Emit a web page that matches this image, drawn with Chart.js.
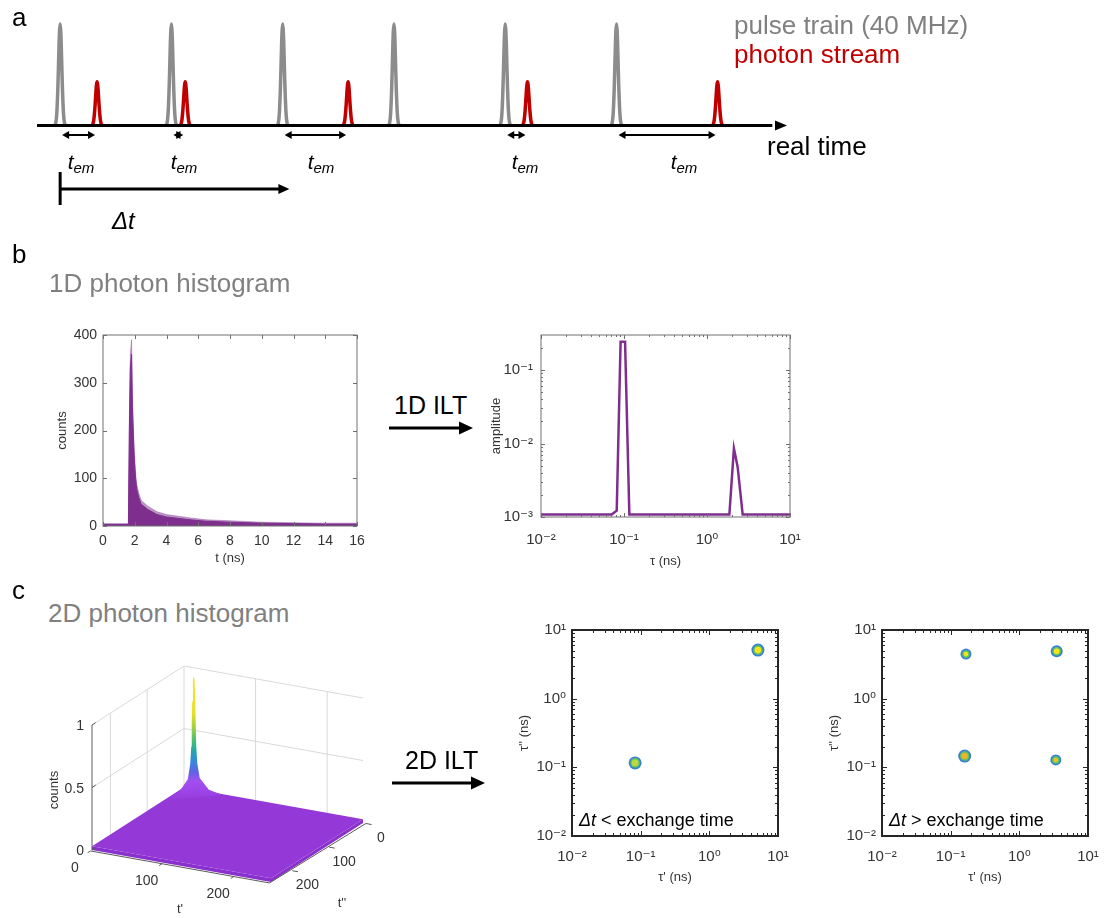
<!DOCTYPE html>
<html>
<head>
<meta charset="utf-8">
<title>photon histograms and ILT</title>
<script src="https://cdn.jsdelivr.net/npm/chart.js@4.4.1/dist/chart.umd.min.js"></script>
<style>
  body { margin: 0; background: #fff; }
  #page { position: relative; width: 1104px; height: 918px; overflow: hidden;
          font-family: "Liberation Sans", Arial, "DejaVu Sans", sans-serif; color: #000; }
  canvas { position: absolute; }
  .t { position: absolute; white-space: nowrap; line-height: 1; }
  svg { position: absolute; left: 0; top: 0; }
</style>
</head>
<body>
<div id="page"></div>
<script>
// ---- panel a: excitation pulses (40 MHz -> 25 ns apart) and photon arrivals, ns
const pulseTimes = [0, 25, 50, 75, 100, 125];
const photonTimes = [8.3, 28.1, 64.7, 105.0, 147.7];
const emissionStart = [0, 25, 50, 100, 125];
const pulseShapeT = [-1.3, -1.0, -0.75, -0.5, -0.3, -0.15, 0, 0.15, 0.3, 0.5, 0.75, 1.0, 1.3];
const pulseShapeH = [0, 0.02, 0.12, 0.39, 0.71, 0.92, 1, 0.92, 0.71, 0.39, 0.12, 0.02, 0];
const pulseHeight = 1;
const photonHeight = 0.43;
const deltaT = 51.5;
const emLabelX = [81, 184, 321, 525, 684];

// ---- panel b left: 1D photon histogram
const histTime   = [0, 1.6, 1.66, 1.72, 1.8, 1.85, 1.9, 1.97, 2.05, 2.12, 2.25, 2.4, 2.8, 3.4, 4.0, 5.5, 6.5, 8, 10, 12, 14, 16];
const histCounts = [3, 3, 200, 330, 360, 250, 200, 140, 100, 78, 60, 46, 35, 24, 19, 13, 10, 8, 6, 5, 4, 4];
const histUpper  = [5, 5, 230, 360, 390, 280, 225, 158, 113, 88, 69, 54, 42, 30, 24, 17, 13, 11, 8, 7, 6, 6];
const histXTicks = [0, 2, 4, 6, 8, 10, 12, 14, 16];
const histYTicks = [0, 100, 200, 300, 400];

// ---- panel b right: 1D ILT
const iltTau = [0.01, 0.071, 0.0817, 0.091, 0.103, 0.116, 1.86, 2.11, 2.34, 2.69, 10];
const iltAmp = [0.00108, 0.00108, 0.00122, 0.243, 0.243, 0.00108, 0.00108, 0.0086, 0.0048, 0.00108, 0.00108];
const tauTicks = [0.01, 0.1, 1, 10];
const tauLabels = ['10⁻²', '10⁻¹', '10⁰', '10¹'];
const ampTicks = [0.001, 0.01, 0.1];
const ampLabels = ['10⁻³', '10⁻²', '10⁻¹'];

// ---- panel c left: 2D photon histogram (3D view)
const tPrimeMax = 250, tDoubleMax = 250;
const tBinTicks = [0, 100, 200];
const zTicks = [0, 0.5, 1];
const zLabels = ['0', '0.5', '1'];
const surfaceLevel = 0.03;
const peakBin = 28;
// offsets across the peak (t' - t'' direction, bins) and counts there
const peakOffsets = [-52, -28, -11, -6.5, -4.6, -3.7, -2.8, -1.5, 0, 1.5, 2.8, 3.7, 4.6, 6.5, 11, 28, 52];
const peakCounts  = [0.03, 0.08, 0.18, 0.3, 0.44, 0.62, 0.8, 0.97, 1.0, 0.97, 0.8, 0.62, 0.44, 0.3, 0.18, 0.08, 0.03];

// ---- panel c: 2D ILT maps
const mapA_x = [0.083, 5.1];
const mapA_y = [0.116, 5.1];
const mapA_r = [6.5, 6.5];
const mapA_core = ['#bcd83e', '#f6e41e'];
const mapB_x = [0.167, 3.5, 0.16, 3.4];
const mapB_y = [4.46, 4.9, 0.146, 0.128];
const mapB_r = [5.5, 6, 6.5, 5.5];
const mapB_core = ['#f3e21f', '#f7e51b', '#eab52a', '#e2c435'];

Chart.defaults.font.family = '"Liberation Sans", Arial, "DejaVu Sans", sans-serif';
Chart.defaults.color = '#333';

const page = document.getElementById('page');
const xy = (xs, ys) => xs.map((x, i) => ({ x, y: ys[i] }));

function addCanvas(left, top, w, h) {
  const c = document.createElement('canvas');
  c.width = w; c.height = h;
  Object.assign(c.style, { left: left + 'px', top: top + 'px', width: w + 'px', height: h + 'px' });
  page.appendChild(c);
  return c;
}

// text placed by baseline (line-height 1)
function label(html, x, baseline, size, style) {
  const el = document.createElement('div');
  el.className = 't';
  el.innerHTML = html;
  el.style.left = x + 'px';
  el.style.top = (baseline - 0.8465 * size) + 'px';
  el.style.fontSize = size + 'px';
  if (style) Object.assign(el.style, style);
  page.appendChild(el);
  return el;
}
function vlabel(text, cx, cy, size) {
  const el = document.createElement('div');
  el.className = 't';
  el.textContent = text;
  Object.assign(el.style, { left: cx + 'px', top: cy + 'px', fontSize: size + 'px', color: '#333',
    transform: 'translate(-50%,-50%) rotate(-90deg)' });
  page.appendChild(el);
}

const base = {
  responsive: false, animation: false, devicePixelRatio: 1, events: [],
  plugins: { legend: { display: false }, tooltip: { enabled: false } }
};

// axis with fixed ticks and a fixed box size, so the plot area lands where we want it
function fixedAxis(o) {
  return {
    type: o.type, min: o.min, max: o.max,
    afterBuildTicks: s => { s.ticks = o.ticks.map(v => ({ value: v })); },
    afterFit: s => {
      if (o.width != null) s.width = o.width;
      if (o.height != null) s.height = o.height;
      s.paddingLeft = s.paddingRight = s.paddingTop = s.paddingBottom = 0;
    },
    grid: { display: false, drawTicks: false },
    border: { display: false },
    ticks: { autoSkip: false, maxRotation: 0, padding: o.pad, color: '#333', font: { size: o.size || 14 },
      callback: (v, i) => o.labels[i] },
    title: { display: true, text: o.title, color: '#333', font: { size: 13 }, padding: 4 }
  };
}

// MATLAB style box with inward ticks on all four sides
function matlabBox(opt) {
  return {
    id: 'matlabBox',
    afterDraw(chart) {
      const { ctx, chartArea: a, scales } = chart;
      ctx.save();
      ctx.strokeStyle = opt.color;
      ctx.lineWidth = 1;
      const mark = (axis, v, len) => {
        const p = Math.round(scales[axis].getPixelForValue(v)) + 0.5;
        ctx.beginPath();
        if (axis === 'x') {
          ctx.moveTo(p, a.bottom); ctx.lineTo(p, a.bottom - len);
          ctx.moveTo(p, a.top); ctx.lineTo(p, a.top + len);
        } else {
          ctx.moveTo(a.left, p); ctx.lineTo(a.left + len, p);
          ctx.moveTo(a.right, p); ctx.lineTo(a.right - len, p);
        }
        ctx.stroke();
      };
      ['x', 'y'].forEach(axis => {
        const s = scales[axis];
        s.ticks.forEach(t => mark(axis, t.value, opt.major));
        if (s.type === 'logarithmic' && opt.minor) {
          for (let e = Math.floor(Math.log10(s.min)); e < Math.log10(s.max); e++) {
            for (let k = 2; k <= 9; k++) {
              const v = k * Math.pow(10, e);
              if (v > s.min && v < s.max) mark(axis, v, opt.minor);
            }
          }
        }
      });
      ctx.lineWidth = opt.width;
      ctx.strokeRect(a.left, a.top, a.right - a.left, a.bottom - a.top);
      ctx.restore();
    }
  };
}

// ================= panel a =================
function arrowHead(ctx, x, y, dir, len, half) {
  ctx.beginPath();
  ctx.moveTo(x, y);
  ctx.lineTo(x - dir * len, y - half);
  ctx.lineTo(x - dir * len, y + half);
  ctx.closePath();
  ctx.fill();
}
function hArrow(ctx, x1, x2, y, lw, len, half, both) {
  ctx.lineWidth = lw;
  ctx.beginPath();
  ctx.moveTo(both ? x1 + len - 1 : x1, y);
  ctx.lineTo(x2 - len + 1, y);
  ctx.stroke();
  arrowHead(ctx, x2, y, 1, len, half);
  if (both) arrowHead(ctx, x1, y, -1, len, half);
}

const pulseArrows = {
  id: 'pulseArrows',
  afterDatasetsDraw(chart) {
    const { ctx } = chart;
    const xs = chart.scales.x, ys = chart.scales.y;
    const y0 = ys.getPixelForValue(0);
    const px = t => xs.getPixelForValue(t);
    ctx.save();
    ctx.fillStyle = ctx.strokeStyle = '#000';
    arrowHead(ctx, px(xs.max), y0, 1, 12, 5);
    emissionStart.forEach((t0, i) => hArrow(ctx, px(t0) + 2, px(photonTimes[i]) - 2, y0 + 9.5, 2, 7, 4, true));
    ctx.lineWidth = 3;
    ctx.beginPath();
    ctx.moveTo(px(0), y0 + 46.5);
    ctx.lineTo(px(0), y0 + 79.5);
    ctx.stroke();
    hArrow(ctx, px(0), px(deltaT), y0 + 63.5, 3, 11, 5, false);
    ctx.restore();
  }
};

const pulseSets = [];
pulseSets.push({ data: [{ x: -5.2, y: 0 }, { x: 160, y: 0 }], borderColor: '#000', borderWidth: 3 });
pulseTimes.forEach(t => pulseSets.push({
  data: pulseShapeT.map((d, i) => ({ x: t + d, y: pulseShapeH[i] * pulseHeight })),
  borderColor: '#8c8c8c', borderWidth: 3.5
}));
photonTimes.forEach(t => pulseSets.push({
  data: pulseShapeT.map((d, i) => ({ x: t + d, y: pulseShapeH[i] * photonHeight })),
  borderColor: '#c00000', borderWidth: 3.5
}));
pulseSets.forEach(d => Object.assign(d, { pointRadius: 0, tension: 0.35, clip: false, fill: false }));

new Chart(addCanvas(0, 0, 800, 240), {
  type: 'line',
  data: { datasets: pulseSets },
  options: {
    ...base,
    layout: { padding: { left: 37, right: 13, top: 24, bottom: 114.5 } },
    scales: {
      x: { type: 'linear', display: false, min: -5.2, max: 163.3 },
      y: { type: 'linear', display: false, min: 0, max: 1 }
    }
  },
  plugins: [pulseArrows]
});

label('a', 12, 26, 26);
label('pulse train (40 MHz)', 734, 34, 26, { color: '#808080' });
label('photon stream', 734, 63, 26, { color: '#c00000' });
label('real time', 767, 155, 26);
emLabelX.forEach(x => label('<i>t</i><i style="font-size:15px;position:relative;top:4px">em</i>', x, 169, 21,
  { transform: 'translateX(-50%)' }));
label('<i>Δt</i>', 112, 229, 24);

// ================= panel b =================
label('b', 12, 263, 26);
label('1D photon histogram', 49, 292, 26, { color: '#808080' });

new Chart(addCanvas(51, 320, 318, 250), {
  type: 'line',
  data: { datasets: [
    { data: xy(histTime, histCounts), borderColor: '#7E2F8E', backgroundColor: '#7E2F8E', borderWidth: 1,
      fill: 'origin', pointRadius: 0 },
    { data: xy(histTime, histUpper), borderColor: 'rgba(126,47,142,0.35)', backgroundColor: 'rgba(126,47,142,0.5)',
      borderWidth: 1, fill: 'origin', pointRadius: 0 }
  ]},
  options: {
    ...base,
    layout: { padding: { top: 15, right: 12 } },
    scales: {
      x: fixedAxis({ type: 'linear', min: 0, max: 16, ticks: histXTicks, labels: histXTicks.map(String),
        height: 44, pad: 7, title: 't (ns)' }),
      y: fixedAxis({ type: 'linear', min: 0, max: 400, ticks: histYTicks, labels: histYTicks.map(String),
        width: 52, pad: 6, title: 'counts' })
    }
  },
  plugins: [matlabBox({ color: '#707070', width: 1, major: 4, minor: 0 })]
});

new Chart(addCanvas(485, 320, 327, 253), {
  type: 'line',
  data: { datasets: [
    { data: xy(iltTau, iltAmp), borderColor: '#7E2F8E', borderWidth: 2.5, pointRadius: 0, fill: false, tension: 0 }
  ]},
  options: {
    ...base,
    layout: { padding: { top: 15, right: 22 } },
    scales: {
      x: fixedAxis({ type: 'logarithmic', min: 0.01, max: 10, ticks: tauTicks, labels: tauLabels,
        height: 56, pad: 14, size: 15, title: 'τ (ns)' }),
      y: fixedAxis({ type: 'logarithmic', min: 0.001, max: 0.3, ticks: ampTicks, labels: ampLabels,
        width: 56, pad: 8, size: 15, title: 'amplitude' })
    }
  },
  plugins: [matlabBox({ color: '#707070', width: 1, major: 4, minor: 2 })]
});

// ================= panel c =================
label('c', 12, 599, 26);
label('2D photon histogram', 48, 622, 26, { color: '#808080' });

// oblique view of the (t', t'', counts) box
const P = (tp, tdd, z) => ({ x: 184 + tp * 0.716 - tdd * 0.368, y: 791 + tp * 0.128 + tdd * 0.236 - z * 125 });
const layers = [];
const seg = (pts, color, width) => layers.push({ data: pts, borderColor: color, borderWidth: width, fill: false });
const poly = (pts, bg) => layers.push({ data: pts, borderWidth: 0, borderColor: 'rgba(0,0,0,0)', backgroundColor: bg, fill: 'shape' });

const wall = '#d9d9d9';
seg([P(0, tDoubleMax, 0), P(0, 0, 0), P(tPrimeMax, 0, 0)], wall, 1);
seg([P(0, 0, 0), P(0, 0, 1)], wall, 1);
seg([P(0, tDoubleMax, 1), P(0, 0, 1), P(tPrimeMax, 0, 1)], wall, 1);
tBinTicks.slice(1).forEach(g => {
  seg([P(0, g, 0), P(0, g, 1)], wall, 1);
  seg([P(g, 0, 0), P(g, 0, 1)], wall, 1);
});
zTicks.slice(1, -1).forEach(z => seg([P(0, tDoubleMax, z), P(0, 0, z), P(tPrimeMax, 0, z)], wall, 1));

const purple = '#9438d8';
poly([P(0, tDoubleMax, 0), P(tPrimeMax, tDoubleMax, 0), P(tPrimeMax, tDoubleMax, surfaceLevel), P(0, tDoubleMax, surfaceLevel)], '#8a30cc');
poly([P(tPrimeMax, 0, 0), P(tPrimeMax, tDoubleMax, 0), P(tPrimeMax, tDoubleMax, surfaceLevel), P(tPrimeMax, 0, surfaceLevel)], '#8a30cc');
poly([P(0, 0, surfaceLevel), P(tPrimeMax, 0, surfaceLevel), P(tPrimeMax, tDoubleMax, surfaceLevel), P(0, tDoubleMax, surfaceLevel)], purple);

const axisGrey = '#5a5a5a';
seg([P(0, tDoubleMax, 0), P(0, tDoubleMax, 1)], axisGrey, 1);
seg([P(0, tDoubleMax + 4, 0), P(tPrimeMax, tDoubleMax + 4, 0), P(tPrimeMax + 4, 0, 0)], axisGrey, 1);
tBinTicks.forEach(g => {
  seg([P(g, tDoubleMax + 4, 0), P(g, tDoubleMax + 12, 0)], axisGrey, 1);
  seg([P(tPrimeMax + 4, g, 0), P(tPrimeMax + 12, g, 0)], axisGrey, 1);
});
zTicks.forEach(z => seg([P(0, tDoubleMax, z), P(0, tDoubleMax - 10, z)], axisGrey, 1));

const peakStops = [[1, '#f5e52a'], [0.7, '#e8df2a'], [0.6, '#a7d33c'], [0.5, '#55c06a'], [0.42, '#25ad9e'],
  [0.33, '#2e8ed8'], [0.24, '#5a66e4'], [0.16, '#a24ef0'], [0.06, '#9c42e6'], [0, purple]];
layers.push({
  data: peakOffsets.map((d, i) => P(peakBin + d / 2, peakBin - d / 2, peakCounts[i])),
  borderWidth: 0, borderColor: 'rgba(0,0,0,0)', fill: 'shape',
  backgroundColor: c => {
    const ch = c.chart;
    if (!ch.chartArea) return purple;
    const ys = ch.scales.y;
    const g = ch.ctx.createLinearGradient(0, ys.getPixelForValue(P(peakBin, peakBin, 1).y), 0,
      ys.getPixelForValue(P(peakBin, peakBin, 0).y));
    peakStops.forEach(([z, col]) => g.addColorStop(1 - z, col));
    return g;
  }
});
layers.forEach((d, i) => Object.assign(d, { order: layers.length - i, pointRadius: 0, tension: 0 }));

new Chart(addCanvas(40, 640, 360, 278), {
  type: 'line',
  data: { datasets: layers },
  options: {
    ...base,
    scales: {
      x: { type: 'linear', display: false, min: 40, max: 400 },
      y: { type: 'linear', display: false, min: 640, max: 918, reverse: true }
    }
  }
});

zTicks.forEach((z, i) => {
  const p = P(0, tDoubleMax, z);
  label(zLabels[i], p.x - 8, p.y + 5, 14, { color: '#333', transform: 'translateX(-100%)' });
});
tBinTicks.forEach(g => {
  const a = P(g, tDoubleMax, 0);
  label(String(g), a.x - 17, a.y + 22, 14, { color: '#333', transform: 'translateX(-50%)' });
  const b = P(tPrimeMax, g, 0);
  label(String(g), b.x + 18, b.y + 19, 14, { color: '#333', transform: 'translateX(-50%)' });
});
label("t'", 180, 913, 13, { color: '#333', transform: 'translateX(-50%)' });
label("t''", 342, 907, 13, { color: '#333', transform: 'translateX(-50%)' });
vlabel('counts', 53, 790, 13);

label('1D ILT', 394, 414, 25);
label('2D ILT', 405, 769, 25);

function iltMap(left, xs, ys, rs, cores, note) {
  const w = Math.min(283, 1104 - left);
  const pts = k => xs.map((x, i) => ({ x, y: ys[i], r: rs[i] - k }));
  new Chart(addCanvas(left, 615, w, 274), {
    type: 'bubble',
    data: { datasets: [
      { data: pts(3.2), backgroundColor: cores, borderWidth: 0 },
      { data: pts(1.7), backgroundColor: '#62c25c', borderWidth: 0 },
      { data: pts(0), backgroundColor: '#3a80d4', borderWidth: 0 }
    ]},
    options: {
      ...base,
      layout: { padding: { top: 15, right: w - 265 } },
      scales: {
        x: fixedAxis({ type: 'logarithmic', min: 0.01, max: 10, ticks: tauTicks, labels: tauLabels,
          height: 53, pad: 12, size: 15, title: "τ' (ns)" }),
        y: fixedAxis({ type: 'logarithmic', min: 0.01, max: 10, ticks: tauTicks, labels: tauLabels,
          width: 59, pad: 6, size: 15, title: "τ'' (ns)" })
      }
    },
    plugins: [matlabBox({ color: '#262626', width: 2, major: 5, minor: 3 })]
  });
  label(note, left + 66, 826, 18);
}
iltMap(513, mapA_x, mapA_y, mapA_r, mapA_core, '<i>Δt</i> &lt; exchange time');
iltMap(823, mapB_x, mapB_y, mapB_r, mapB_core, '<i>Δt</i> &gt; exchange time');

// ILT arrows
const svgNS = 'http://www.w3.org/2000/svg';
const svg = document.createElementNS(svgNS, 'svg');
svg.setAttribute('width', 1104); svg.setAttribute('height', 918);
[[389, 473, 428], [392, 485, 783]].forEach(([x1, x2, y]) => {
  const l = document.createElementNS(svgNS, 'line');
  Object.entries({ x1, y1: y, x2: x2 - 12, y2: y, stroke: '#000', 'stroke-width': 3 }).forEach(([k, v]) => l.setAttribute(k, v));
  const h = document.createElementNS(svgNS, 'polygon');
  h.setAttribute('points', `${x2},${y} ${x2 - 14},${y - 6.5} ${x2 - 14},${y + 6.5}`);
  svg.appendChild(l); svg.appendChild(h);
});
page.appendChild(svg);
</script>
</body>
</html>
